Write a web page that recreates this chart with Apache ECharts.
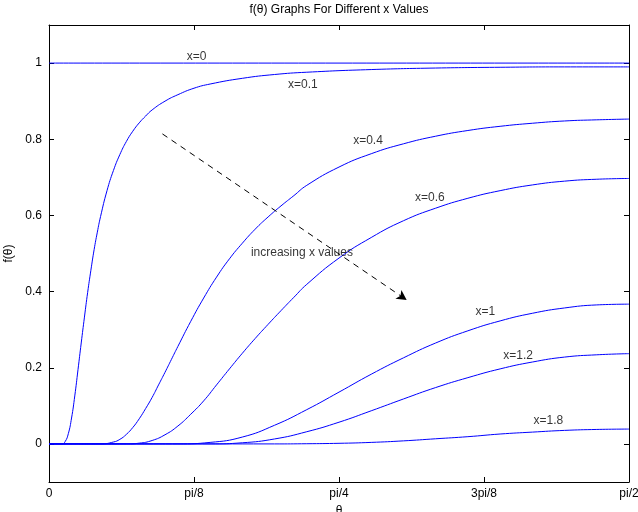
<!DOCTYPE html>
<html>
<head>
<meta charset="utf-8">
<script src="https://cdn.jsdelivr.net/npm/echarts@6/dist/echarts.min.js"></script>
<style>
html,body{margin:0;padding:0;background:#fff;}
#chart{width:638px;height:512px;}
</style>
</head>
<body>
<div id="chart"></div>
<script>
// theta in degrees (0 .. 90 = pi/2)
const thetaX0 = [0, 90];
const fX0 = [1, 1];
const thetaX01 = [0, 2, 2.5, 3, 3.5, 4, 4.5, 5, 5.5, 6, 6.5, 7, 7.5, 8, 9, 10, 11, 12, 13, 14, 15, 16, 18, 20, 22.5, 25, 30, 35, 40, 50, 60, 70, 80, 90];
const fX01 = [0, 0, 0.006, 0.027, 0.068, 0.126, 0.195, 0.265, 0.333, 0.398, 0.456, 0.51, 0.556, 0.597, 0.665, 0.718, 0.76, 0.794, 0.821, 0.843, 0.861, 0.877, 0.9, 0.917, 0.934, 0.945, 0.96, 0.97, 0.976, 0.983, 0.987, 0.989, 0.99, 0.99];
const thetaX04 = [0, 8, 10, 11, 12, 13, 14, 15, 16, 17, 18, 19, 20, 22, 24, 26, 28, 30, 32, 34, 36, 38, 40, 45, 50, 55, 60, 65, 70, 75, 80, 85, 90];
const fX04 = [0, 0, 0.005, 0.012, 0.025, 0.043, 0.066, 0.093, 0.122, 0.155, 0.188, 0.222, 0.256, 0.322, 0.383, 0.438, 0.486, 0.527, 0.564, 0.596, 0.625, 0.652, 0.679, 0.727, 0.762, 0.788, 0.808, 0.823, 0.834, 0.842, 0.848, 0.851, 0.853];
const thetaX06 = [0, 12, 14, 16, 18, 20, 22, 24, 26, 28, 30, 32, 34, 36, 38, 40, 45, 50, 55, 60, 65, 70, 75, 80, 85, 90];
const fX06 = [0, 0, 0.002, 0.009, 0.024, 0.047, 0.078, 0.113, 0.155, 0.197, 0.238, 0.277, 0.314, 0.35, 0.385, 0.419, 0.488, 0.542, 0.586, 0.619, 0.645, 0.665, 0.68, 0.69, 0.695, 0.697];
const thetaX1 = [0, 20, 25, 30, 35, 40, 45, 50, 55, 60, 65, 70, 75, 80, 85, 90];
const fX1 = [0, 0, 0.004, 0.018, 0.049, 0.09, 0.136, 0.183, 0.226, 0.265, 0.297, 0.323, 0.343, 0.357, 0.365, 0.367];
const thetaX12 = [0, 25, 30, 35, 40, 45, 50, 55, 60, 65, 70, 75, 80, 85, 90];
const fX12 = [0, 0, 0.003, 0.013, 0.032, 0.057, 0.087, 0.118, 0.148, 0.174, 0.197, 0.215, 0.228, 0.234, 0.237];
const thetaX18 = [0, 35, 40, 45, 50, 55, 60, 65, 70, 75, 80, 85, 90];
const fX18 = [0, 0, 0.0005, 0.0016, 0.004, 0.008, 0.0135, 0.019, 0.026, 0.031, 0.0355, 0.038, 0.039];

const xTickLabels = ['0', 'pi/8', 'pi/4', '3pi/8', 'pi/2'];
const yTickValues = [0, 0.2, 0.4, 0.6, 0.8, 1];
const yTickLabels = ['0', '0.2', '0.4', '0.6', '0.8', '1'];

// annotations: [theta(deg), f, text]
const annotations = [
  [22.9, 1.018, 'x=0'],
  [39.4, 0.942, 'x=0.1'],
  [49.5, 0.795, 'x=0.4'],
  [59.1, 0.646, 'x=0.6'],
  [67.7, 0.346, 'x=1'],
  [72.8, 0.231, 'x=1.2'],
  [77.5, 0.060, 'x=1.8'],
  [39.25, 0.501, 'increasing x values']
];
const arrowStart = [17.6, 0.814];
const arrowEnd = [55.5, 0.378];

const curves = [
  [thetaX0, fX0], [thetaX01, fX01], [thetaX04, fX04], [thetaX06, fX06],
  [thetaX1, fX1], [thetaX12, fX12], [thetaX18, fX18]
];

const FONT = 'Liberation Sans, Arial, Helvetica, sans-serif';
const chart = echarts.init(document.getElementById('chart'), null, {renderer: 'canvas'});

const lineSeries = curves.map(function (c) {
  return {
    type: 'line',
    xAxisIndex: 0, yAxisIndex: 0,
    data: c[0].map(function (t, i) { return [t, c[1][i]]; }),
    showSymbol: false,
    symbol: 'none',
    smooth: 0.5,
    lineStyle: {color: '#0000ff', width: 1},
    silent: true,
    z: 3
  };
});

const baseAxisLine = {show: true, onZero: false, lineStyle: {color: '#000', width: 1}};

chart.setOption({
  animation: false,
  backgroundColor: '#fff',
  title: {
    text: 'f(\u03b8) Graphs For Different x Values',
    left: 339, top: 4, textAlign: 'center', padding: 0,
    textStyle: {fontFamily: FONT, fontSize: 12, fontWeight: 'normal', color: '#000'}
  },
  grid: {left: 49, right: 9, top: 25, bottom: 30, containLabel: false, outerBoundsMode: 'none'},
  xAxis: [
    {
      type: 'value', position: 'bottom', min: 0, max: 90, interval: 22.5,
      name: '\u03b8', nameLocation: 'middle', nameGap: 20,
      nameTextStyle: {fontFamily: FONT, fontSize: 12, color: '#000'},
      axisLine: baseAxisLine,
      axisTick: {show: true, inside: true, length: 5, lineStyle: {color: '#000'}},
      axisLabel: {
        margin: 6, fontFamily: FONT, fontSize: 12, color: '#000',
        formatter: function (v) { return xTickLabels[Math.round(v / 22.5)]; }
      },
      splitLine: {show: false}
    },
    {
      type: 'value', position: 'top', min: 0, max: 90, interval: 22.5,
      axisLine: baseAxisLine,
      axisTick: {show: true, inside: true, length: 5, lineStyle: {color: '#000'}},
      axisLabel: {show: false},
      splitLine: {show: false}
    }
  ],
  yAxis: [
    {
      type: 'value', position: 'left', min: -0.1, max: 1.1,
      name: 'f(\u03b8)', nameLocation: 'middle', nameGap: 30, nameRotate: 90,
      nameTextStyle: {fontFamily: FONT, fontSize: 12, color: '#000'},
      axisLine: baseAxisLine,
      axisTick: {show: true, inside: true, length: 5, customValues: yTickValues, lineStyle: {color: '#000'}},
      axisLabel: {
        margin: 7, fontFamily: FONT, fontSize: 12, color: '#000',
        customValues: yTickValues,
        formatter: function (v) {
          const i = yTickValues.findIndex(function (t) { return Math.abs(t - v) < 1e-6; });
          return i >= 0 ? yTickLabels[i] : '';
        }
      },
      splitLine: {show: false}
    },
    {
      type: 'value', position: 'right', min: -0.1, max: 1.1,
      axisLine: baseAxisLine,
      axisTick: {show: true, inside: true, length: 5, customValues: yTickValues, lineStyle: {color: '#000'}},
      axisLabel: {show: false},
      splitLine: {show: false}
    }
  ],
  series: lineSeries.concat([
    {
      type: 'scatter',
      xAxisIndex: 0, yAxisIndex: 0,
      data: annotations,
      symbolSize: 1,
      itemStyle: {color: 'rgba(0,0,0,0)'},
      silent: true,
      z: 5,
      label: {
        show: true, position: 'inside',
        fontFamily: FONT, fontSize: 12, color: '#000',
        formatter: function (p) { return p.value[2]; }
      },
      markLine: {
        silent: true,
        symbol: ['none', 'arrow'],
        symbolSize: [8, 10],
        label: {show: false},
        lineStyle: {color: '#000', width: 1, type: [6, 5]},
        data: [[{coord: arrowStart}, {coord: arrowEnd}]]
      }
    }
  ])
});
</script>
</body>
</html>
